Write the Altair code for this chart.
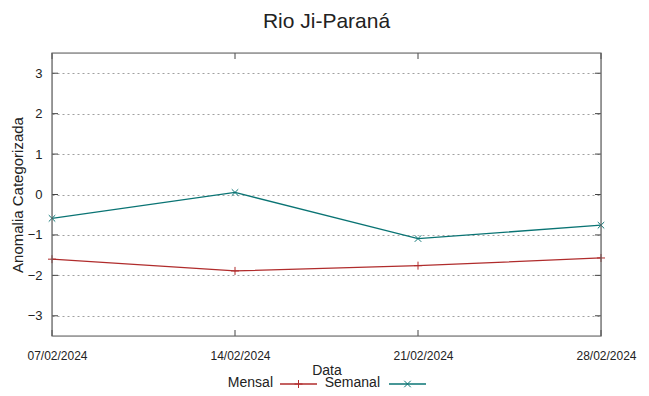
import altair as alt
import pandas as pd

dates = ["2024-02-07", "2024-02-14", "2024-02-21", "2024-02-28"]
mensal = [-1.60, -1.89, -1.76, -1.57]
semanal = [-0.59, 0.05, -1.09, -0.76]
series_names = ["Mensal", "Semanal"]
series_colors = ["#b02c2c", "#0a7474"]
y_ticks = [-3, -2, -1, 0, 1, 2, 3]

df = pd.DataFrame({
    "Data": dates * 2,
    "Valor": mensal + semanal,
    "Serie": [series_names[0]] * 4 + [series_names[1]] * 4,
})

FONT = "Liberation Sans"
W, H = 549, 283
PLUS = "M-1,0L1,0M0,-1L0,1"
CROSS = "M-1,-1L1,1M-1,1L1,-1"

x_enc = alt.X("Data:T", scale=alt.Scale(domain=[dates[0], dates[-1]]),
              axis=alt.Axis(values=dates, format="%d/%m/%Y", grid=False, ticks=False,
                            domain=False, labelFontSize=12, labelPadding=14,
                            labelFlush=False, labelOffset=5, labelColor="#222",
                            title="Data", titleFontSize=14, titleFontWeight="normal",
                            titlePadding=2, titleColor="#222", labelFont=FONT,
                            titleFont=FONT))
y_enc = alt.Y("Valor:Q", scale=alt.Scale(domain=[-3.5, 3.5], nice=False, zero=False),
              axis=alt.Axis(values=y_ticks, grid=True, gridColor="#a0a0a0",
                            gridDash=[2, 3], gridWidth=1, ticks=False, domain=False,
                            labelFontSize=13, labelPadding=10, labelColor="#222",
                            labelFont=FONT, title="Anomalia Categorizada",
                            titleFontSize=15, titleFontWeight="normal", titlePadding=2,
                            titleColor="#222", titleFont=FONT))

color = alt.Color("Serie:N", scale=alt.Scale(domain=series_names, range=series_colors),
                  legend=None)

lines = alt.Chart(df).mark_line(strokeWidth=1.3).encode(x=x_enc, y=y_enc, color=color)

pts_m = alt.Chart(df[df.Serie == "Mensal"]).mark_point(
    shape=PLUS, size=64, filled=False, strokeWidth=1, opacity=1
).encode(x="Data:T", y="Valor:Q", color=color)
pts_s = alt.Chart(df[df.Serie == "Semanal"]).mark_point(
    shape=CROSS, size=42, filled=False, strokeWidth=1, opacity=1
).encode(x="Data:T", y="Valor:Q", color=color)

# inward ticks
ytick_df = pd.DataFrame({"v": y_ticks})
ytick_l = alt.Chart(ytick_df).mark_rule(color="#444", strokeWidth=1).encode(
    y="v:Q", x=alt.value(0), x2=alt.value(6))
ytick_r = alt.Chart(ytick_df).mark_rule(color="#444", strokeWidth=1).encode(
    y="v:Q", x=alt.value(W - 6), x2=alt.value(W))
xtick_df = pd.DataFrame({"d": dates})
xtick_b = alt.Chart(xtick_df).mark_rule(color="#444", strokeWidth=1).encode(
    x="d:T", y=alt.value(H - 6), y2=alt.value(H))
xtick_t = alt.Chart(xtick_df).mark_rule(color="#444", strokeWidth=1).encode(
    x="d:T", y=alt.value(0), y2=alt.value(6))

# border box
border = alt.Chart(pd.DataFrame({"b": [0]})).mark_rect(
    fill=None, stroke="#606060", strokeWidth=1.2
).encode(x=alt.value(0), x2=alt.value(W), y=alt.value(0), y2=alt.value(H))

# legend (gnuplot style: label then sample line)
leg_y = 331
leg_text_x = [221, 328]
leg_line_x = [(228, 265), (337, 374)]
legend_layers = []
for i, name in enumerate(series_names):
    ld = pd.DataFrame({"Serie": [name]})
    legend_layers.append(alt.Chart(ld).mark_text(
        align="right", baseline="middle", fontSize=14, font=FONT, color="#222"
    ).encode(text="Serie:N", x=alt.value(leg_text_x[i]), y=alt.value(leg_y - 1)))
    legend_layers.append(alt.Chart(ld).mark_rule(strokeWidth=1.3).encode(
        x=alt.value(leg_line_x[i][0]), x2=alt.value(leg_line_x[i][1]),
        y=alt.value(leg_y), color=color))
    legend_layers.append(alt.Chart(ld).mark_point(
        shape=PLUS if i == 0 else CROSS, size=64 if i == 0 else 42,
        filled=False, strokeWidth=1, opacity=1
    ).encode(x=alt.value((leg_line_x[i][0] + leg_line_x[i][1]) / 2),
             y=alt.value(leg_y), color=color))

chart = alt.layer(
    lines, pts_m, pts_s, ytick_l, ytick_r, xtick_b, xtick_t, border, *legend_layers
).properties(
    width=W, height=H,
    title=alt.TitleParams("Rio Ji-Paraná", fontSize=21, font=FONT, fontWeight="normal",
                          color="#222", anchor="middle", offset=20),
    autosize=alt.AutoSizeParams(type="none"),
    padding={"left": 44, "top": 45, "right": 40, "bottom": 56},
).configure_view(
    stroke=None
).configure(background="white")

chart.save("out.html", embed_options={"renderer": "svg", "actions": False})
